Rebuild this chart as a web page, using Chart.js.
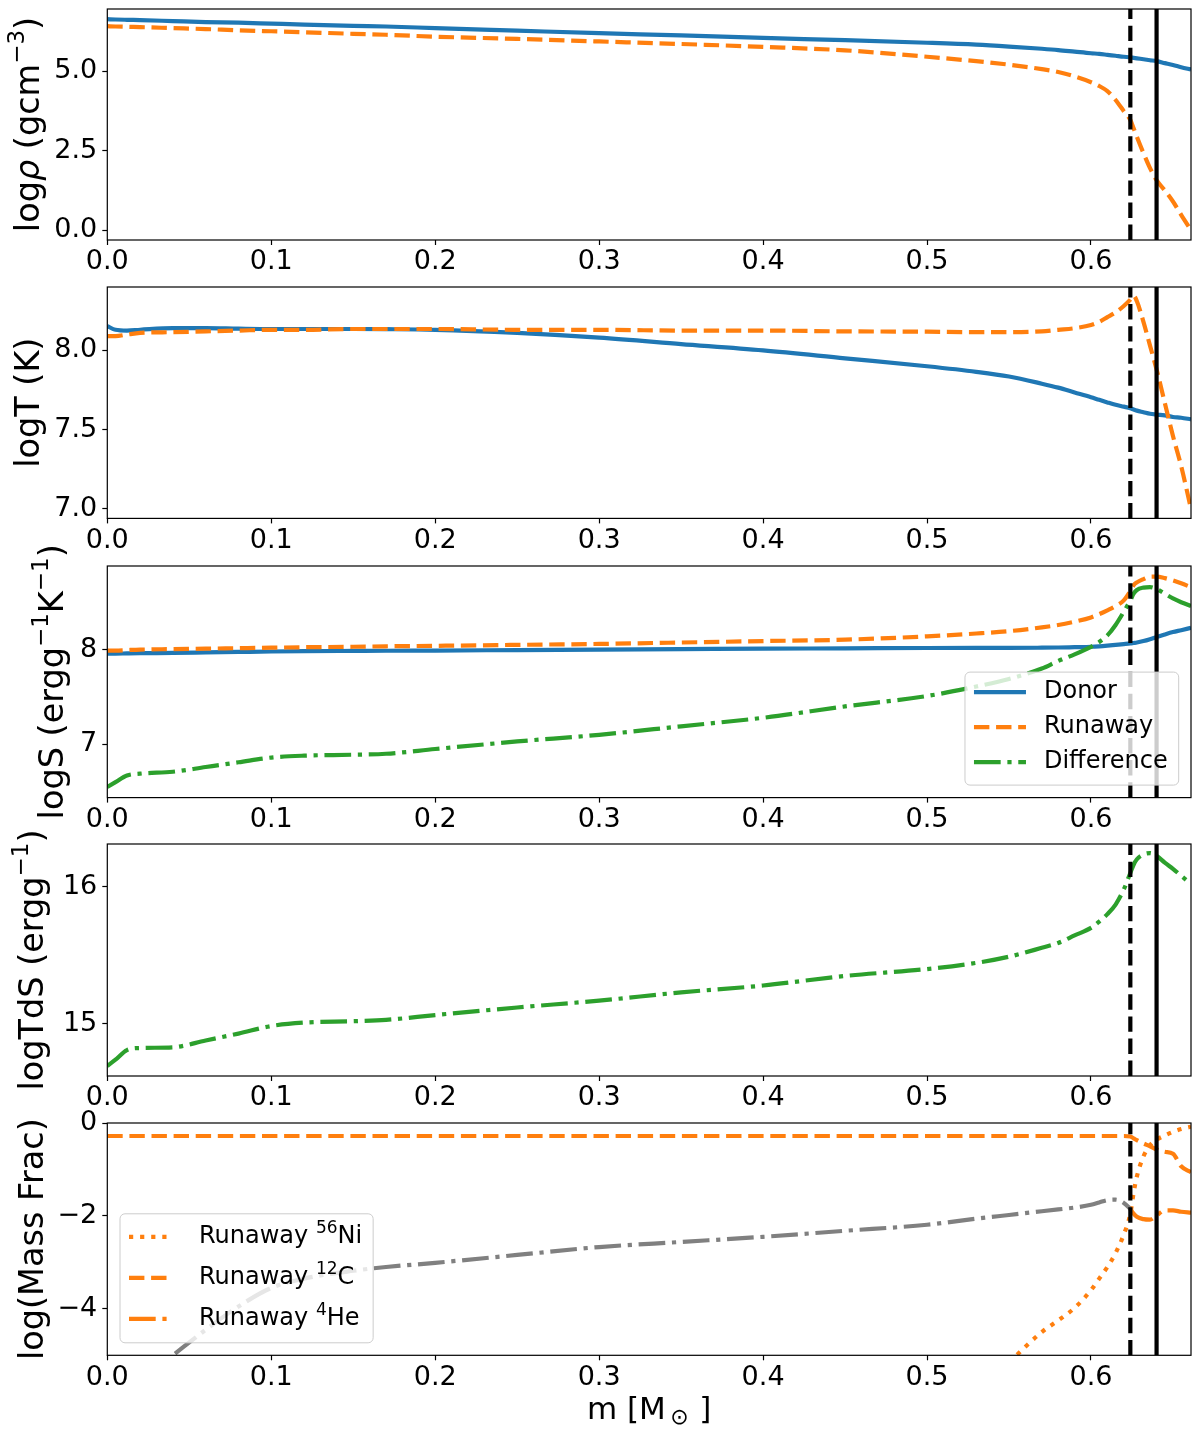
<!DOCTYPE html>
<html>
<head>
<meta charset="utf-8">
<script src="https://cdn.jsdelivr.net/npm/chart.js@4.4.1/dist/chart.umd.min.js"></script>
<style>
  html, body { margin: 0; padding: 0; background: #fff; }
  body { width: 1200px; height: 1438px; position: relative; overflow: hidden; }
  canvas { position: absolute; left: 0; }
</style>
</head>
<body>
<script>
// enclosed mass coordinate m [M_sun]
const mass = [0, 0.005, 0.012, 0.02, 0.04, 0.06, 0.08, 0.1, 0.12, 0.15, 0.17, 0.2, 0.25, 0.3, 0.35, 0.4, 0.45, 0.5, 0.53, 0.55,
  0.57, 0.58, 0.59, 0.6, 0.605, 0.61, 0.615, 0.62, 0.624, 0.626, 0.628, 0.632, 0.636, 0.64, 0.645, 0.65, 0.655, 0.661];

// log rho
const rhoDonor = [6.63, 6.62, 6.61, 6.60, 6.57, 6.54, 6.52, 6.49, 6.46, 6.42, 6.40, 6.35, 6.27, 6.19, 6.12, 6.04, 5.97, 5.89, 5.83, 5.77,
  5.70, 5.66, 5.61, 5.56, 5.54, 5.51, 5.48, 5.45, 5.43, 5.415, 5.40, 5.37, 5.34, 5.31, 5.25, 5.19, 5.12, 5.05];
const rhoRunaway = [6.41, 6.40, 6.39, 6.38, 6.35, 6.32, 6.28, 6.25, 6.22, 6.17, 6.14, 6.08, 6.01, 5.93, 5.85, 5.76, 5.65, 5.45, 5.31, 5.20,
  5.06, 4.97, 4.83, 4.65, 4.53, 4.37, 4.09, 3.74, 3.46, 3.20, 2.93, 2.42, 1.95, 1.57, 1.25, 0.90, 0.48, 0.0];

// log T
const tDonor = [8.153, 8.13, 8.125, 8.13, 8.14, 8.14, 8.137, 8.135, 8.135, 8.135, 8.134, 8.13, 8.11, 8.08, 8.04, 8.0, 7.95, 7.90, 7.865, 7.835,
  7.79, 7.765, 7.735, 7.705, 7.688, 7.672, 7.657, 7.645, 7.635, 7.627, 7.62, 7.61, 7.60, 7.595, 7.59, 7.58, 7.575, 7.565];
const tRunaway = [8.09, 8.09, 8.10, 8.11, 8.115, 8.12, 8.125, 8.13, 8.13, 8.135, 8.135, 8.135, 8.13, 8.13, 8.125, 8.125, 8.12, 8.118, 8.115, 8.115,
  8.12, 8.13, 8.14, 8.16, 8.18, 8.21, 8.24, 8.28, 8.32, 8.345, 8.31, 8.18, 8.03, 7.88, 7.67, 7.46, 7.27, 7.0];

// log S
const sDonor = [7.958, 7.958, 7.96, 7.962, 7.965, 7.97, 7.975, 7.98, 7.983, 7.986, 7.988, 7.99, 7.995, 8.0, 8.005, 8.01, 8.013, 8.017, 8.018, 8.018,
  8.02, 8.022, 8.026, 8.03, 8.035, 8.042, 8.05, 8.058, 8.065, 8.07, 8.075, 8.09, 8.11, 8.133, 8.16, 8.185, 8.205, 8.23];
const sRunaway = [7.99, 7.99, 7.995, 8.0, 8.005, 8.01, 8.015, 8.02, 8.025, 8.03, 8.035, 8.04, 8.05, 8.06, 8.075, 8.09, 8.105, 8.14, 8.17, 8.195,
  8.235, 8.26, 8.295, 8.34, 8.375, 8.415, 8.46, 8.52, 8.62, 8.68, 8.71, 8.745, 8.77, 8.77, 8.755, 8.73, 8.70, 8.66];
const sDiff = [6.55, 6.60, 6.67, 6.69, 6.71, 6.76, 6.81, 6.86, 6.88, 6.89, 6.90, 6.95, 7.03, 7.10, 7.19, 7.28, 7.40, 7.51, 7.61, 7.69,
  7.80, 7.88, 7.95, 8.03, 8.08, 8.15, 8.26, 8.40, 8.52, 8.59, 8.63, 8.655, 8.66, 8.64, 8.59, 8.54, 8.50, 8.46];

// log T dS
const tdsDiff = [14.694, 14.74, 14.81, 14.825, 14.83, 14.88, 14.93, 14.985, 15.01, 15.02, 15.03, 15.065, 15.12, 15.17, 15.23, 15.28, 15.35, 15.40, 15.445, 15.49,
  15.555, 15.59, 15.645, 15.70, 15.745, 15.80, 15.87, 15.98, 16.10, 16.16, 16.20, 16.235, 16.245, 16.225, 16.175, 16.13, 16.08, 16.02];

// log mass fractions
const ni56Runaway = [null, null, null, null, null, null, null, null, null, null, null, null, null, null, null, null, null, null, null, -5.15,
  -4.50, -4.25, -3.98, -3.60, -3.35, -3.10, -2.80, -2.40, -1.95, -1.50, -1.15, -0.72, -0.48, -0.36, -0.27, -0.19, -0.13, -0.08];
const c12Runaway = [-0.28, -0.28, -0.28, -0.28, -0.28, -0.28, -0.28, -0.28, -0.28, -0.28, -0.28, -0.28, -0.28, -0.28, -0.28, -0.28, -0.28, -0.28, -0.28, -0.28,
  -0.28, -0.28, -0.28, -0.28, -0.28, -0.28, -0.28, -0.28, -0.29, -0.33, -0.37, -0.44, -0.50, -0.57, -0.62, -0.66, -0.93, -1.06];
const he4Runaway = [null, null, null, null, null, null, null, null, null, null, null, null, null, null, null, null, null, null, null, null,
  null, null, null, null, null, null, null, null, -1.85, -1.95, -2.02, -2.07, -2.08, -1.99, -1.88, -1.88, -1.91, -1.93];
const he4Donor = [null, null, null, -5.55, -5.0, -4.45, -3.95, -3.55, -3.35, -3.18, -3.10, -3.01, -2.84, -2.67, -2.56, -2.45, -2.32, -2.19, -2.06, -1.98,
  -1.90, -1.86, -1.82, -1.76, -1.71, -1.66, -1.65, -1.72, -1.85, null, null, null, null, null, null, null, null, null];

const xTicks = [0, 0.1, 0.2, 0.3, 0.4, 0.5, 0.6];
const xMax = 0.661;
const lineDashedAt = 0.624;
const lineSolidAt = 0.640;

const BLUE = '#1f77b4', ORANGE = '#ff7f0e', GREEN = '#2ca02c', GREY = '#808080';
const LW = 4.2;
const DASH = [15.4, 6.7], DASHDOT = [26.7, 6.7, 4.2, 6.7], DOT = [4.2, 6.9];
const FONT = '"DejaVu Sans", sans-serif';
const TITLE_SIZE = 33.5;
const PAD_TOP = 40;
const AREA_LEFT = 107.3, AREA_RIGHT = 1191;

Chart.defaults.font.family = FONT;
Chart.defaults.color = '#000';

function toPoints(ys) {
  return mass.map((m, i) => ({ x: m, y: ys[i] })).filter(p => p.y !== null);
}

function partFont(kind, size) {
  if (kind === 'sup' || kind === 'sub') return `${Math.round(size * 0.7)}px ${FONT}`;
  if (kind === 'it') return `italic ${size}px ${FONT}`;
  return `${size}px ${FONT}`;
}

function richWidth(ctx, parts, size) {
  let w = 0;
  parts.forEach(p => { ctx.font = partFont(p[1], size); w += ctx.measureText(p[0]).width; });
  return w;
}

// text with super/subscripts, baseline 'middle'
function drawRich(ctx, parts, x, y, size, center) {
  let cx = center ? x - richWidth(ctx, parts, size) / 2 : x;
  ctx.textBaseline = 'middle';
  ctx.textAlign = 'left';
  parts.forEach(p => {
    ctx.font = partFont(p[1], size);
    const dy = p[1] === 'sup' ? -size * 0.36 : p[1] === 'sub' ? size * 0.24 : 0;
    ctx.fillText(p[0], cx, y + dy);
    cx += ctx.measureText(p[0]).width;
  });
}

function drawLegend(ctx, a, L) {
  const size = 24;
  let textW = 0;
  L.items.forEach(it => { textW = Math.max(textW, richWidth(ctx, it.label, size)); });
  const w = L.padL + L.handle + L.gap + textW + L.padR;
  const h = L.padTop + L.row * (L.items.length - 1) + L.padBottom;
  const x0 = L.corner === 'lr' ? a.right - 12.3 - w : a.left + 12.7;
  const y0 = a.bottom - 12.5 - h;
  ctx.save();
  ctx.beginPath();
  ctx.roundRect(x0, y0, w, h, 5);
  ctx.fillStyle = 'rgba(255,255,255,0.8)';
  ctx.fill();
  ctx.strokeStyle = '#cccccc';
  ctx.lineWidth = 1;
  ctx.stroke();
  L.items.forEach((it, i) => {
    const y = y0 + L.padTop + i * L.row;
    ctx.beginPath();
    ctx.setLineDash(it.dash);
    ctx.strokeStyle = it.color;
    ctx.lineWidth = LW;
    ctx.moveTo(x0 + L.padL, y);
    ctx.lineTo(x0 + L.padL + L.handle, y);
    ctx.stroke();
    ctx.setLineDash([]);
    ctx.fillStyle = '#000';
    drawRich(ctx, it.label, x0 + L.padL + L.handle + L.gap, y, size, false);
  });
  ctx.restore();
}

function makeDecor(p) {
  return {
    id: 'decor',
    afterDraw(chart) {
      const { ctx, chartArea: a } = chart;
      ctx.save();
      ctx.strokeStyle = '#000';
      ctx.lineWidth = 1.2;
      ctx.strokeRect(a.left, a.top, a.right - a.left, a.bottom - a.top);
      ctx.fillStyle = '#000';
      ctx.translate(p.titleX, (a.top + a.bottom) / 2);
      ctx.rotate(-Math.PI / 2);
      drawRich(ctx, p.title, 0, 0, TITLE_SIZE, true);
      ctx.restore();
      if (p.legend) drawLegend(ctx, a, p.legend);
      if (p.xLabel) {
        ctx.save();
        ctx.fillStyle = '#000';
        drawRich(ctx, p.xLabel, (a.left + a.right) / 2, a.bottom + 56, 31, true);
        ctx.restore();
      }
    }
  };
}

const fmt1 = v => v.toFixed(1);
const fmtInt = v => String(v);
const fmtMinus = v => (v < 0 ? '\u2212' + Math.abs(v) : String(v));

const panels = [
  {
    top: 9, h: 231, yMin: -0.31, yMax: 6.95, yTicks: [0, 2.5, 5.0], fmt: fmt1, titleX: 30,
    title: [['log'], ['\u03c1', 'it'], [' (gcm'], ['\u22123', 'sup'], [')']],
    series: [{ values: rhoDonor, color: BLUE, dash: [] }, { values: rhoRunaway, color: ORANGE, dash: DASH }]
  },
  {
    top: 287.3, h: 231.4, yMin: 6.94, yMax: 8.40, yTicks: [7.0, 7.5, 8.0], fmt: fmt1, titleX: 30,
    title: [['logT (K)']],
    series: [{ values: tDonor, color: BLUE, dash: [] }, { values: tRunaway, color: ORANGE, dash: DASH }]
  },
  {
    top: 565.7, h: 231.6, yMin: 6.437, yMax: 8.883, yTicks: [7, 8], fmt: fmtInt, titleX: 54,
    title: [['logS (ergg'], ['\u22121', 'sup'], ['K'], ['\u22121', 'sup'], [')']],
    series: [{ values: sDonor, color: BLUE, dash: [] }, { values: sRunaway, color: ORANGE, dash: DASH },
      { values: sDiff, color: GREEN, dash: DASHDOT }],
    legend: {
      corner: 'lr', handle: 52, gap: 18, row: 35, padTop: 20, padBottom: 23, padL: 9, padR: 11,
      items: [
        { color: BLUE, dash: [], label: [['Donor']] },
        { color: ORANGE, dash: DASH, label: [['Runaway']] },
        { color: GREEN, dash: DASHDOT, label: [['Difference']] }
      ]
    }
  },
  {
    top: 844, h: 232, yMin: 14.621, yMax: 16.311, yTicks: [15, 16], fmt: fmtInt, titleX: 34,
    title: [['logTdS (ergg'], ['\u22121', 'sup'], [')']],
    series: [{ values: tdsDiff, color: GREEN, dash: DASHDOT }]
  },
  {
    top: 1122.7, h: 232.3, yMin: -5, yMax: 0, yTicks: [-4, -2, 0], fmt: fmtMinus, titleX: 34,
    title: [['log(Mass Frac)']],
    series: [{ values: ni56Runaway, color: ORANGE, dash: DOT }, { values: c12Runaway, color: ORANGE, dash: DASH },
      { values: he4Runaway, color: ORANGE, dash: DASHDOT }, { values: he4Donor, color: GREY, dash: DASHDOT }],
    legend: {
      corner: 'll', handle: 44, gap: 26, row: 41, padTop: 23, padBottom: 24, padL: 9, padR: 11,
      items: [
        { color: ORANGE, dash: DOT, label: [['Runaway '], ['56', 'sup'], ['Ni']] },
        { color: ORANGE, dash: DASH, label: [['Runaway '], ['12', 'sup'], ['C']] },
        { color: ORANGE, dash: DASHDOT, label: [['Runaway '], ['4', 'sup'], ['He']] }
      ]
    },
    xLabel: [['m [M'], ['\u2009\u2299\u2009', 'sub'], ['\u2009]']]
  }
];

panels.forEach((p, i) => {
  const top = p.top - PAD_TOP;
  const height = i === panels.length - 1 ? Math.round(1438 - top) : Math.round(PAD_TOP + p.h + 75);
  const canvas = document.createElement('canvas');
  canvas.width = 1200;
  canvas.height = height;
  canvas.style.top = top + 'px';
  canvas.style.width = '1200px';
  canvas.style.height = height + 'px';
  document.body.appendChild(canvas);

  const datasets = p.series.map((s, k) => ({
    data: toPoints(s.values),
    borderColor: s.color,
    borderDash: s.dash,
    borderWidth: LW,
    pointRadius: 0,
    fill: false,
    cubicInterpolationMode: 'monotone',
    clip: 0,
    order: -k
  }));
  [[lineDashedAt, DASH], [lineSolidAt, []]].forEach(([xv, dash], k) => {
    datasets.push({
      data: [{ x: xv, y: p.yMin }, { x: xv, y: p.yMax }],
      borderColor: '#000', borderDash: dash, borderWidth: LW,
      pointRadius: 0, fill: false, clip: 0, order: -10 - k
    });
  });

  const tickGrid = { display: true, drawOnChartArea: false, drawTicks: true, tickLength: 5, tickWidth: 1.2, tickColor: '#000' };

  new Chart(canvas, {
    type: 'line',
    data: { datasets },
    options: {
      responsive: false,
      animation: false,
      layout: { padding: { top: PAD_TOP, right: 1200 - AREA_RIGHT, left: 0, bottom: 0 } },
      plugins: { legend: { display: false }, tooltip: { enabled: false } },
      scales: {
        x: {
          type: 'linear', min: 0, max: xMax,
          afterBuildTicks: s => { s.ticks = xTicks.map(v => ({ value: v })); },
          afterFit: s => { s.height = height - PAD_TOP - p.h; },
          ticks: { callback: v => v.toFixed(1), font: { size: 27 }, color: '#000', padding: 1, maxRotation: 0, autoSkip: false },
          grid: tickGrid,
          border: { display: false }
        },
        y: {
          type: 'linear', min: p.yMin, max: p.yMax,
          afterBuildTicks: s => { s.ticks = p.yTicks.map(v => ({ value: v })); },
          afterFit: s => { s.width = AREA_LEFT; },
          ticks: { callback: v => p.fmt(v), font: { size: 27 }, color: '#000', padding: 5, autoSkip: false },
          grid: tickGrid,
          border: { display: false }
        }
      }
    },
    plugins: [makeDecor(p)]
  });
});
</script>
</body>
</html>
